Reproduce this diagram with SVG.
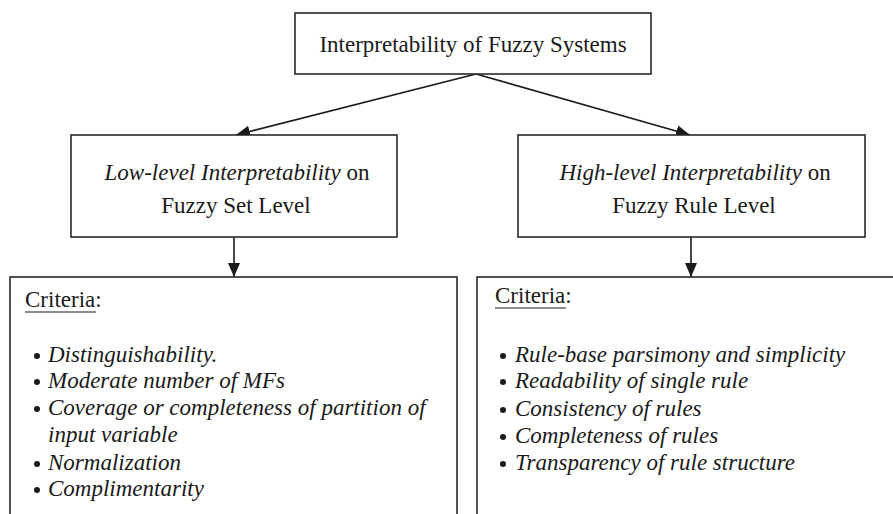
<svg xmlns="http://www.w3.org/2000/svg" width="893" height="514" viewBox="0 0 893 514">
<defs>
<marker id="ah" viewBox="0 0 14 12" refX="14" refY="6" markerWidth="14" markerHeight="12" markerUnits="userSpaceOnUse" orient="auto">
<path d="M0,0 L14,6 L0,12 Z" fill="#1a1a1a"/>
</marker>
</defs>
<style>
.box{fill:#fff;stroke:#2a2a2a;stroke-width:1.6}
.t{font-family:"Liberation Serif","Times New Roman",serif;font-size:23px;fill:#1a1a1a}
.i{font-style:italic}
.c{text-anchor:middle}
.edge{stroke:#1a1a1a;stroke-width:1.6;fill:none;marker-end:url(#ah)}
.ul{stroke:#1a1a1a;stroke-width:1}
.b{fill:#1a1a1a}
</style>
<rect width="893" height="514" fill="#fff"/>
<g id="connectors">
<line class="edge" x1="476" y1="74" x2="236" y2="135"/>
<line class="edge" x1="476" y1="74" x2="690" y2="135"/>
<line class="edge" x1="234" y1="237" x2="234" y2="277"/>
<line class="edge" x1="691" y1="237" x2="691" y2="277"/>
</g>
<g id="root">
<rect class="box" x="295" y="13" width="356" height="61"/>
<text class="t c" x="473" y="52">Interpretability of Fuzzy Systems</text>
</g>
<g id="low">
<rect class="box" x="71" y="135" width="326" height="102"/>
<text class="t c" x="237" y="180"><tspan class="i">Low-level Interpretability</tspan> on</text>
<text class="t c" x="236" y="213">Fuzzy Set Level</text>
</g>
<g id="high">
<rect class="box" x="518" y="135" width="347" height="102"/>
<text class="t c" x="695" y="180"><tspan class="i">High-level Interpretability</tspan> on</text>
<text class="t c" x="694" y="213">Fuzzy Rule Level</text>
</g>
<g id="low-criteria">
<rect class="box" x="10" y="277" width="447" height="250"/>
<text class="t" x="25" y="307">Criteria:</text>
<line class="ul" x1="25" y1="312" x2="96" y2="312"/>
<circle class="b" cx="37" cy="356" r="3"/>
<circle class="b" cx="37" cy="382" r="3"/>
<circle class="b" cx="37" cy="409" r="3"/>
<circle class="b" cx="37" cy="464" r="3"/>
<circle class="b" cx="37" cy="490" r="3"/>
<g class="t i">
<text x="48" y="362">Distinguishability.</text>
<text x="48" y="388">Moderate number of MFs</text>
<text x="48" y="415">Coverage or completeness of partition of</text>
<text x="48" y="442">input variable</text>
<text x="48" y="470">Normalization</text>
<text x="48" y="496">Complimentarity</text>
</g>
</g>
<g id="high-criteria">
<rect class="box" x="477" y="277" width="430" height="250"/>
<text class="t" x="495" y="303">Criteria:</text>
<line class="ul" x1="495" y1="308" x2="566" y2="308"/>
<circle class="b" cx="503" cy="356" r="3"/>
<circle class="b" cx="503" cy="382" r="3"/>
<circle class="b" cx="503" cy="410" r="3"/>
<circle class="b" cx="503" cy="437" r="3"/>
<circle class="b" cx="503" cy="464" r="3"/>
<g class="t i">
<text x="515" y="362">Rule-base parsimony and simplicity</text>
<text x="515" y="388">Readability of single rule</text>
<text x="515" y="416">Consistency of rules</text>
<text x="515" y="443">Completeness of rules</text>
<text x="515" y="470">Transparency of rule structure</text>
</g>
</g>
</svg>
